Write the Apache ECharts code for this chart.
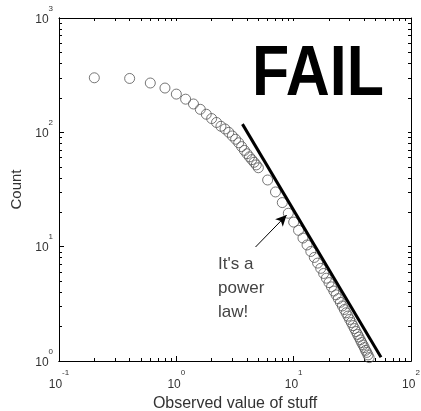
<!DOCTYPE html>
<html>
<head>
<meta charset="utf-8">
<script src="https://cdn.jsdelivr.net/npm/echarts@6/dist/echarts.min.js"></script>
<style>
    html, body { margin: 0; padding: 0; background: #fff; }
    #chart { width: 421px; height: 411px; }
</style>
</head>
<body>
<div id="chart"></div>
<script>
    const xValues = [0.2, 0.4, 0.6, 0.8, 1.0, 1.2, 1.4, 1.6, 1.8, 2.0, 2.2, 2.4, 2.6, 2.8, 3.0, 3.2, 3.4, 3.6, 3.8, 4.0,
        4.2, 4.4, 4.6, 4.8, 5.0, 6, 7, 8, 9, 10, 11, 12, 13, 14, 15, 16, 17, 18, 19, 20,
        21, 22, 23, 24, 25, 26, 27, 28, 29, 30, 31, 32, 33, 34, 35, 36, 37, 38, 39, 40, 41, 42, 43, 44];
    const counts = [300, 296, 270, 244, 216, 195, 177, 159, 144, 132, 122, 113, 107, 100, 93, 87, 81, 75, 69.5, 65,
        61, 57.7, 54.7, 51.9, 49, 38.3, 30.1, 24.3, 19.6, 16.4, 13.9, 11.9, 10.35, 9.08, 8.05, 7.18, 6.46, 5.83, 5.30, 4.85,
        4.45, 4.09, 3.79, 3.51, 3.26, 3.03, 2.82, 2.64, 2.47, 2.31, 2.17, 2.04, 1.92, 1.81, 1.71, 1.62, 1.53, 1.45, 1.38, 1.31,
        1.24, 1.19, 1.13, 1.07];

    // the "power law" fit line, end points
    const fitX = [3.66, 55.5];
    const fitY = [118, 1.08];

    // arrow from the note to the curve
    const arrowFrom = [4.73, 9.93];
    const arrowTo = [8.71, 18.9];

    const xMajor = [0.1, 1, 10, 100];
    const xMinor = [0.2, 0.3, 0.4, 0.5, 0.6, 0.7, 0.8, 0.9, 2, 3, 4, 5, 6, 7, 8, 9, 20, 30, 40, 50, 60, 70, 80, 90];
    const yMajor = [1, 10, 100, 1000];
    const yMinor = [2, 3, 4, 5, 6, 7, 8, 9, 20, 30, 40, 50, 60, 70, 80, 90, 200, 300, 400, 500, 600, 700, 800, 900];

    const noteLines = ["It's a", 'power', 'law!'];

    const FONT = '"Liberation Sans", Arial, sans-serif';
    const INK = '#333';

    const points = xValues.map((x, i) => [x, counts[i]]);

    function powLabel(v) {
        return '{b|10}{s|' + Math.round(Math.log10(v)) + '}';
    }

    const richX = {
        b: { fontSize: 12, fontFamily: FONT, color: INK, lineHeight: 22, verticalAlign: 'bottom' },
        s: { fontSize: 8, fontFamily: FONT, color: INK, lineHeight: 9, verticalAlign: 'top' }
    };
    const richY = {
        b: { fontSize: 12, fontFamily: FONT, color: INK, lineHeight: 21, verticalAlign: 'bottom' },
        s: { fontSize: 8, fontFamily: FONT, color: INK, lineHeight: 9, verticalAlign: 'top' }
    };

    function tickAxis(extra) {
        return Object.assign({
            type: 'log',
            logBase: 10,
            splitLine: { show: false },
            axisLine: { show: true, lineStyle: { color: '#000', width: 1 } },
            axisLabel: { show: false },
            axisTick: { show: true, inside: true, length: 3, lineStyle: { color: '#000' } }
        }, extra);
    }

    const chart = echarts.init(document.getElementById('chart'), null, { renderer: 'canvas' });

    chart.setOption({
        backgroundColor: '#fff',
        animation: false,
        grid: { left: 59, right: 10, top: 18, bottom: 50, containLabel: false, outerBoundsMode: 'none' },
        xAxis: [
            tickAxis({
                position: 'bottom', min: 0.1, max: 100,
                axisTick: { show: true, inside: true, length: 5, customValues: xMajor, lineStyle: { color: '#000' } },
                axisLabel: { show: true, customValues: xMajor, margin: 8, formatter: powLabel, rich: richX },
                name: 'Observed value of stuff',
                nameLocation: 'middle',
                nameGap: 34,
                nameTextStyle: { fontSize: 16, fontFamily: FONT, color: INK }
            }),
            tickAxis({
                position: 'bottom', min: 0.1, max: 100,
                axisTick: { show: true, inside: true, length: 3, customValues: xMinor, lineStyle: { color: '#000' } }
            }),
            tickAxis({
                position: 'top', min: 0.1, max: 100,
                axisTick: { show: true, inside: true, length: 3, customValues: xMajor.concat(xMinor), lineStyle: { color: '#000' } }
            })
        ],
        yAxis: [
            tickAxis({
                position: 'left', min: 1, max: 1000,
                axisTick: { show: true, inside: true, length: 5, customValues: yMajor, lineStyle: { color: '#000' } },
                axisLabel: { show: true, customValues: yMajor, margin: 6, padding: [0, 0, 6, 0], formatter: powLabel, rich: richY },
                name: 'Count',
                nameLocation: 'middle',
                nameGap: 24,
                nameTextStyle: { fontSize: 15, fontFamily: FONT, color: INK }
            }),
            tickAxis({
                position: 'left', min: 1, max: 1000,
                axisTick: { show: true, inside: true, length: 3, customValues: yMinor, lineStyle: { color: '#000' } }
            }),
            tickAxis({
                position: 'right', min: 1, max: 1000,
                axisTick: { show: true, inside: true, length: 3, customValues: yMajor.concat(yMinor), lineStyle: { color: '#000' } }
            })
        ],
        graphic: [
            {
                type: 'text', x: 252, y: 41, scaleX: 0.87,
                style: { text: 'FAIL', font: 'bold 70px ' + FONT, fill: '#000', textVerticalAlign: 'top' }
            },
            {
                type: 'text', left: 218, top: 252,
                style: { text: noteLines.join('\n'), font: '17px ' + FONT, fill: '#444', lineHeight: 24 }
            }
        ],
        series: [
            {
                type: 'scatter',
                data: points,
                symbol: 'circle',
                symbolSize: 10,
                itemStyle: { color: 'rgba(0,0,0,0)', borderColor: '#555', borderWidth: 1 },
                silent: true
            },
            {
                type: 'line',
                data: fitX.map((x, i) => [x, fitY[i]]),
                showSymbol: false,
                lineStyle: { color: '#000', width: 3 },
                silent: true,
                markLine: {
                    silent: true,
                    symbol: ['none', 'arrow'],
                    symbolSize: [8, 11],
                    label: { show: false },
                    lineStyle: { color: '#000', width: 1, type: 'solid' },
                    data: [[{ coord: arrowFrom }, { coord: arrowTo }]]
                }
            }
        ]
    });
</script>
</body>
</html>
